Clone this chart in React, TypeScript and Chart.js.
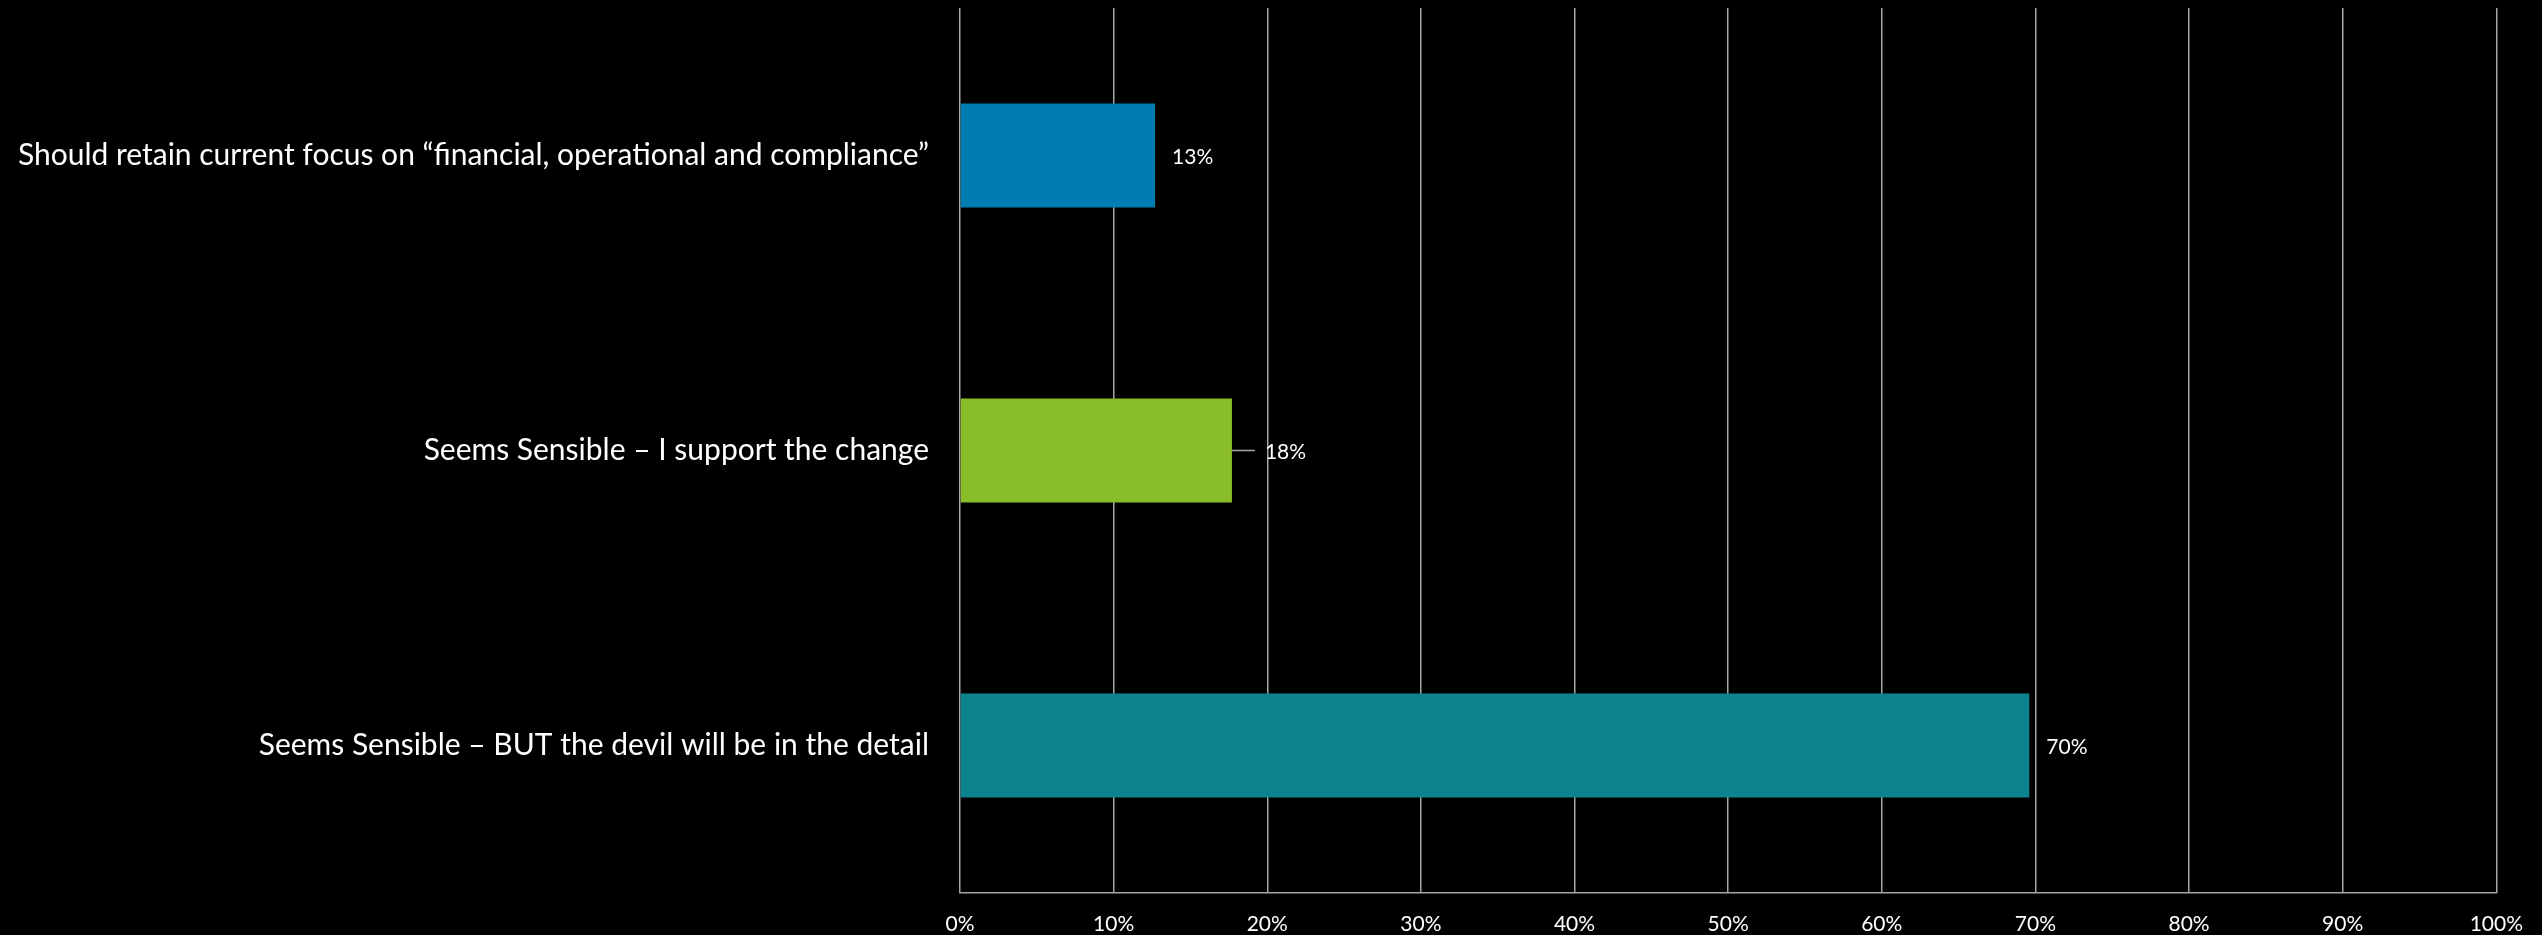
import React, { useEffect, useRef } from "react";
import { Chart, registerables } from "chart.js";

Chart.register(...registerables);

const categories = [
  "Should retain current focus on \u201cfinancial, operational and compliance\u201d",
  "Seems Sensible \u2013 I support the change",
  "Seems Sensible \u2013 BUT the devil will be in the detail",
];
const values = [12.7, 17.7, 69.6];
const valueLabels = ["13%", "18%", "70%"];
const barColors = ["#007DB0", "#8ABD2A", "#0E8390"];
const leaderLine = [false, true, false];
const xTicks = [0, 10, 20, 30, 40, 50, 60, 70, 80, 90, 100];

const FONT = "Lato, 'Open Sans', sans-serif";

const labelPlugin = {
  id: "valueLabels",
  afterDatasetsDraw(chart: any) {
    const ctx = chart.ctx;
    const meta = chart.getDatasetMeta(0);
    ctx.save();
    ctx.font = `21px ${FONT}`;
    ctx.fillStyle = "#FFFFFF";
    ctx.textBaseline = "middle";
    ctx.textAlign = "left";
    meta.data.forEach((bar: any, i: number) => {
      let x = bar.x;
      if (leaderLine[i]) {
        ctx.strokeStyle = "#A6A6A6";
        ctx.lineWidth = 1.5;
        ctx.beginPath();
        ctx.moveTo(x, bar.y);
        ctx.lineTo(x + 23, bar.y);
        ctx.stroke();
        x += 33;
      } else {
        x += 17;
      }
      ctx.fillText(valueLabels[i], x, bar.y + 2);
    });
    ctx.restore();
  },
};

const bgPlugin = {
  id: "bg",
  beforeDraw(chart: any) {
    const ctx = chart.ctx;
    ctx.save();
    ctx.fillStyle = "#000000";
    ctx.fillRect(0, 0, chart.width, chart.height);
    ctx.restore();
  },
};

export default function App() {
  const ref = useRef<HTMLCanvasElement>(null);
  useEffect(() => {
    if (!ref.current) return;
    const chart = new Chart(ref.current, {
      type: "bar",
      data: {
        labels: categories,
        datasets: [
          {
            data: values,
            backgroundColor: barColors,
            borderWidth: 0,
            barPercentage: 0.353,
            categoryPercentage: 1,
          },
        ],
      },
      plugins: [bgPlugin, labelPlugin],
      options: {
        indexAxis: "y",
        animation: false,
        responsive: false,
        maintainAspectRatio: false,
        layout: { padding: { top: 8, right: 38, left: 0, bottom: 0 } },
        plugins: {
          legend: { display: false },
          tooltip: { enabled: false },
        },
        scales: {
          x: {
            min: 0,
            max: 100,
            afterBuildTicks(scale: any) {
              scale.ticks = xTicks.map((v) => ({ value: v }));
            },
            afterFit(scale: any) {
              scale.height = 42;
              scale.paddingTop = 0;
              scale.paddingBottom = 0;
            },
            grid: { color: "#A6A6A6", lineWidth: 1.5, drawTicks: false },
            border: { display: true, color: "#A6A6A6", width: 1.5 },
            ticks: {
              color: "#FFFFFF",
              font: { family: FONT, size: 21 },
              padding: 19,
              callback: (v: any) => `${v}%`,
            },
          },
          y: {
            afterFit(scale: any) {
              scale.width = 960;
              scale.paddingTop = 0;
              scale.paddingBottom = 0;
              scale.paddingLeft = 0;
              scale.paddingRight = 0;
            },
            grid: { display: false, drawTicks: false },
            border: { display: false },
            ticks: {
              color: "#FFFFFF",
              font: { family: FONT, size: 30 },
              padding: 31,
            },
          },
        },
      },
    } as any);
    return () => chart.destroy();
  }, []);
  return (
    <div style={{ position: "fixed", left: 0, top: 0, width: 2542, height: 935, background: "#000" }}>
      <canvas ref={ref} width={2542} height={935} style={{ width: 2542, height: 935, display: "block" }} />
    </div>
  );
}
